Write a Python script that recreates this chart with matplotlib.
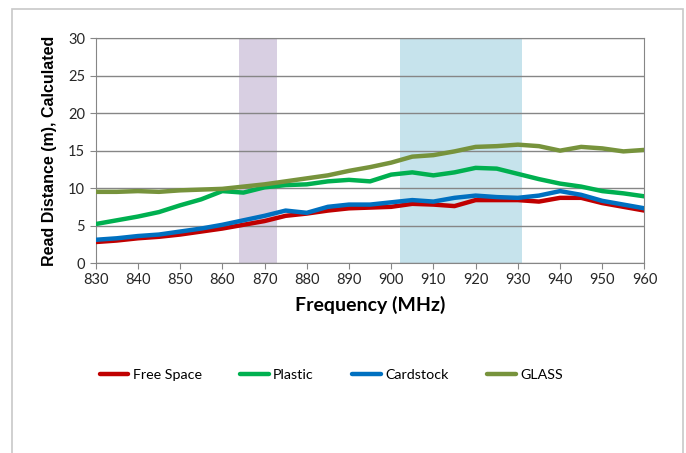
import numpy as np
import matplotlib.pyplot as plt
from matplotlib.patches import Rectangle

# ----------DATA----------
freq = [830, 835, 840, 845, 850, 855, 860, 865, 870, 875, 880, 885, 890, 895,
        900, 905, 910, 915, 920, 925, 930, 935, 940, 945, 950, 955, 960]

free_space = [2.8, 3.0, 3.3, 3.5, 3.8, 4.2, 4.6, 5.1, 5.6, 6.3, 6.6, 7.0, 7.3, 7.4,
              7.5, 7.9, 7.8, 7.6, 8.4, 8.4, 8.4, 8.2, 8.7, 8.7, 8.0, 7.5, 7.0]
plastic = [5.2, 5.7, 6.2, 6.8, 7.7, 8.5, 9.6, 9.4, 10.1, 10.4, 10.5, 10.9, 11.1, 10.9,
           11.8, 12.1, 11.7, 12.1, 12.7, 12.6, 11.9, 11.2, 10.6, 10.2, 9.6, 9.3, 8.9]
cardstock = [3.1, 3.3, 3.6, 3.8, 4.2, 4.6, 5.1, 5.7, 6.3, 7.0, 6.7, 7.5, 7.8, 7.8,
             8.1, 8.4, 8.2, 8.7, 9.0, 8.8, 8.7, 9.0, 9.6, 9.1, 8.3, 7.8, 7.3]
glass = [9.5, 9.5, 9.6, 9.5, 9.7, 9.8, 9.9, 10.2, 10.5, 10.9, 11.3, 11.7, 12.3, 12.8,
         13.4, 14.2, 14.4, 14.9, 15.5, 15.6, 15.8, 15.6, 15.0, 15.5, 15.3, 14.9, 15.1]

series = [("Free Space", free_space, "#C00000"),
          ("Plastic", plastic, "#00B050"),
          ("Cardstock", cardstock, "#0070C0"),
          ("GLASS", glass, "#77933C")]

band_eu = (864, 873)
band_us = (902, 931)

# ----------PLOT----------
fig = plt.figure(figsize=(6.86, 4.53), dpi=100)
ax = fig.add_axes([0.1394, 0.4194, 0.8001, 0.4961])

# outer chart frame
fig.patches.append(Rectangle((12 / 686, -0.05), 671 / 686, 1 - 9 / 453 + 0.05,
                             transform=fig.transFigure, fill=False,
                             edgecolor="#c8c8c8", linewidth=1.2))

ax.axvspan(*band_eu, color="#d8cfe2", zorder=0, linewidth=0)
ax.axvspan(*band_us, color="#c6e3ec", zorder=0, linewidth=0)

for name, vals, col in series:
    ax.plot(freq, vals, color=col, linewidth=3.2, solid_joinstyle="round",
            solid_capstyle="round", label=name, zorder=3)

ax.set_xlim(830, 960)
ax.set_ylim(0, 30)
ax.set_xticks(np.arange(830, 961, 10))
ax.set_yticks(np.arange(0, 31, 5))
ax.yaxis.grid(True, color="#868686", linewidth=1)
ax.set_axisbelow(True)
for s in ax.spines.values():
    s.set_color("#868686")
ax.tick_params(colors="#868686", labelcolor="#262626", labelsize=10.5,
               length=4, direction="out")
for lab in ax.get_xticklabels() + ax.get_yticklabels():
    lab.set_family("Lato")

ax.set_xlabel("Frequency (MHz)", family="Lato", fontweight="bold", fontsize=14,
              labelpad=6)
ax.set_ylabel("Read Distance (m), Calculated", family="Liberation Sans",
              fontweight="bold", fontsize=11.5, labelpad=8)

fig.legend(loc="center", bbox_to_anchor=(0.483, 1 - 375 / 453), ncol=4,
           frameon=False, prop={"family": "Lato", "size": 10.3},
           handlelength=2.0, handletextpad=0.3, columnspacing=2.7)

fig.savefig("out.png", dpi=100)
